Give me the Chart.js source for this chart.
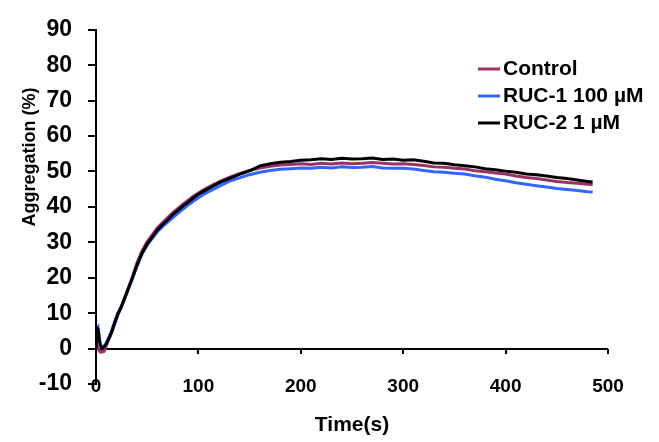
<!DOCTYPE html>
<html>
<head>
<meta charset="utf-8">
<title>Aggregation</title>
<script src="https://cdn.jsdelivr.net/npm/chart.js@4.4.0/dist/chart.umd.min.js"></script>
<style>
  html,body{margin:0;padding:0;background:#fff;}
  canvas{display:block;}
</style>
</head>
<body>
<canvas id="chart" width="659" height="442"></canvas>
<script>
// ================== Data ==================
const times = [0,1,2,3,4,6,8,10,12,15,18,21,25,30,35,40,45,50,55,60,65,70,75,80,85,90,95,100,105,110,115,120,125,130,
  140,150,160,170,180,190,200,210,220,230,240,250,260,270,280,290,300,310,320,330,340,350,360,370,380,390,400,
  410,420,430,440,450,460,470,480,485];

const control = [0,0.8,0,-0.5,-1,-1,-0.8,0.8,2.2,4.3,6.8,9.3,12,15.9,19.8,24.2,27.6,30.2,32.2,34.1,35.6,37,38.4,39.6,40.8,41.9,43,43.9,44.8,45.6,46.4,47.1,47.7,48.3,
  49.4,50.3,51,51.5,51.8,52,52.2,52,52.3,52.1,52.4,52.2,52.3,52.5,52.3,52.1,52.2,52,51.7,51.3,51.2,50.9,50.7,50.2,49.9,49.6,49.3,
  48.7,48.3,48,47.6,47.2,46.9,46.7,46.4,46.3];

const ruc1 = [0,5.5,6,4,1.5,0.3,0.7,1.5,2.8,4.8,7.5,9.8,12,15.6,19.3,23.3,26.7,29.2,31.2,33,34.4,35.7,37,38.2,39.4,40.5,41.6,42.6,43.5,44.3,45,45.8,46.5,47.2,
  48.2,49.1,49.8,50.3,50.6,50.8,51,50.9,51.2,51,51.3,51.1,51.2,51.4,51,50.9,50.9,50.7,50.3,49.9,49.8,49.5,49.3,48.8,48.4,47.8,47.4,
  46.8,46.4,46,45.6,45.2,44.9,44.6,44.3,44.2];

const ruc2 = [0,5.8,5.5,3,1,0,0.5,1.3,2.5,4.5,7,9.5,12,15.8,19.5,23.5,27,29.5,31.5,33.5,35,36.3,37.8,39,40.3,41.3,42.5,43.6,44.4,45.2,46,46.8,47.4,48,
  49.2,50.2,51.6,52.2,52.6,52.8,53.2,53.3,53.6,53.4,53.7,53.5,53.6,53.8,53.4,53.5,53.2,53.3,52.9,52.4,52.3,51.9,51.6,51.3,50.8,50.5,50.1,
  49.8,49.3,49.1,48.7,48.3,48,47.6,47.2,47];

const seriesNames = ['Control', 'RUC-1 100 µM', 'RUC-2 1 µM'];
const seriesColors = ['#993366', '#3366FF', '#000000'];
const seriesOrder = [1, 2, 0]; // black drawn on top
const xTitle = 'Time(s)';
const yTitle = 'Aggregation (%)';

const FONT = "'Liberation Sans', Arial, sans-serif";

// ================== Plugins ==================
// x axis line crosses at y = 0
const zeroAxis = {
  id: 'zeroAxis',
  beforeDatasetsDraw(chart){
    const {ctx, scales:{x, y}} = chart;
    const py = Math.round(y.getPixelForValue(0));
    ctx.save();
    ctx.strokeStyle = '#000';
    ctx.lineWidth = 2;
    ctx.beginPath();
    ctx.moveTo(x.getPixelForValue(x.min), py);
    ctx.lineTo(x.getPixelForValue(x.max), py);
    x.ticks.forEach(t=>{
      const px = Math.round(x.getPixelForValue(t.value));
      ctx.moveTo(px, py);
      ctx.lineTo(px, py + 5);
    });
    ctx.stroke();
    ctx.restore();
  }
};

// legend + rotated y title
const extras = {
  id: 'extras',
  afterDraw(chart){
    const {ctx} = chart;
    ctx.save();
    ctx.font = 'bold 21px ' + FONT;
    ctx.textBaseline = 'middle';
    ctx.textAlign = 'left';
    chart.data.datasets.forEach((ds, i)=>{
      const cy = 69 + i*27;
      ctx.strokeStyle = ds.borderColor;
      ctx.lineWidth = 3;
      ctx.beginPath();
      ctx.moveTo(478, cy);
      ctx.lineTo(500, cy);
      ctx.stroke();
      ctx.fillStyle = '#000';
      ctx.fillText(ds.label, 503, cy);
    });
    ctx.translate(30, 157);
    ctx.rotate(-Math.PI/2);
    ctx.textAlign = 'center';
    ctx.font = 'bold 18px ' + FONT;
    ctx.fillText(yTitle, 0, 0);
    ctx.restore();
  }
};

// ================== Chart ==================
const datasets = seriesNames.map((name, i)=>{
  const vals = [control, ruc1, ruc2][i];
  return {
    label: name,
    data: times.map((t, k)=>({x: t, y: vals[k]})),
    borderColor: seriesColors[i],
    backgroundColor: seriesColors[i],
    borderWidth: 3,
    pointRadius: 0,
    tension: 0,
    order: seriesOrder[i],
  };
});

new Chart(document.getElementById('chart'), {
  type: 'line',
  data: { datasets },
  options: {
    responsive: false,
    animation: false,
    events: [],
    layout: { padding: { top: 20, right: 51, left: 0, bottom: 0 } },
    plugins: { legend: { display: false }, tooltip: { enabled: false } },
    scales: {
      x: {
        type: 'linear', min: 0, max: 500,
        afterFit(s){ s.height = 58; },
        // mirror keeps the labels from being clipped at the top of the axis box
        ticks: { stepSize: 100, color: '#000', mirror: true, padding: -14, maxRotation: 0,
          font: { family: FONT, size: 19, weight: 'bold' } },
        grid: { display: false, drawTicks: false },
        border: { display: false },
        title: { display: true, text: xTitle, color: '#000', padding: { top: 0, bottom: 4 },
          font: { family: FONT, size: 21, weight: 'bold' } },
      },
      y: {
        min: -10, max: 90,
        afterFit(s){ s.width = 96; },
        ticks: { stepSize: 10, color: '#000', padding: 16,
          font: { family: FONT, size: 23, weight: 'bold' } },
        grid: { drawOnChartArea: false, drawTicks: true, tickLength: 8, color: '#000', lineWidth: 2 },
        border: { display: true, color: '#000', width: 2 },
      }
    }
  },
  plugins: [zeroAxis, extras]
});
</script>
</body>
</html>
